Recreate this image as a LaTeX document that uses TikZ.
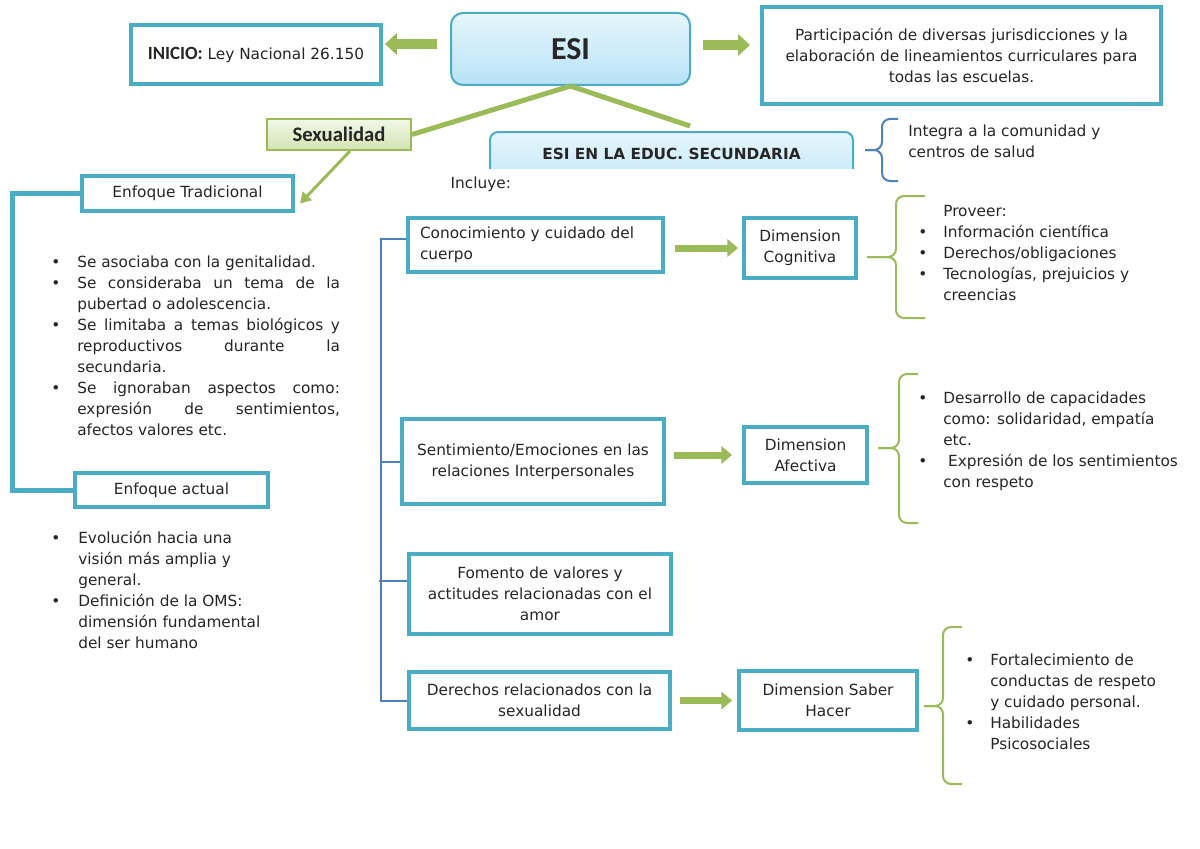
\documentclass[tikz,border=0pt]{standalone}
\usepackage{fontspec}
\setmainfont{DejaVu Sans}
\newfontfamily\calibri{Carlito}
\usetikzlibrary{arrows.meta,positioning}

\definecolor{turquesa}{HTML}{4BACC6}
\definecolor{verde}{HTML}{9BBB59}
\definecolor{azul}{HTML}{4F81BD}
\definecolor{celesteA}{HTML}{E6F6FD}
\definecolor{celesteB}{HTML}{B7E2F5}
\definecolor{verdeA}{HTML}{F2F7E8}
\definecolor{verdeB}{HTML}{D3E4B2}
\definecolor{texto}{HTML}{262626}

\setlength{\parindent}{0pt}
\newcommand{\letra}{\fontsize{11.5}{15.75}\selectfont}
\newenvironment{vinetas}[1][19.5pt]{%
  \begin{list}{\textbullet}{\setlength{\leftmargin}{#1}\setlength{\labelwidth}{#1}%
    \setlength{\labelsep}{0pt}\setlength{\itemsep}{0pt}\setlength{\parsep}{0pt}%
    \setlength{\topsep}{0pt}\setlength{\partopsep}{0pt}%
    \renewcommand{\makelabel}[1]{##1\hfil}}}
  {\end{list}}
\newcommand{\llave}[7]{%
  \draw[#1,rounded corners=6pt] (#2,#5) -| (#3,#6) -- (#4,#6);
  \draw[#1,rounded corners=6pt] (#2,#7) -| (#3,#6) -- (#4,#6);}

\begin{document}
\begin{tikzpicture}[x=0.75pt,y=-0.75pt,every node/.style={text=texto,font=\letra},
  caja/.style={draw=turquesa,line width=3pt,fill=white,inner sep=0pt,align=center},
  cajaesi/.style={draw=turquesa,line width=1.5pt,rounded corners=9pt,top color=celesteA,bottom color=celesteB},
  lista/.style={inner sep=0pt,anchor=base west},
  flechagrande/.style={verde,line width=7.5pt,-{Triangle[length=9pt,width=16pt]}},
  flechamedia/.style={verde,line width=5.25pt,-{Triangle[length=8pt,width=13pt]}},
  flechita/.style={verde,line width=2.25pt,-{Triangle[length=8pt,width=9pt]}},
  rama/.style={verde,line width=3.75pt},
  marco/.style={turquesa,line width=3.75pt},
  eje/.style={azul,line width=1.5pt}]
  \useasboundingbox[fill=white] (0,0) rectangle (1200,849);

  \node[cajaesi,minimum width=179.25pt,minimum height=54pt] (esi) at (570.5,49) {\calibri\bfseries\fontsize{24}{28}\selectfont ESI};
  \node[caja,minimum width=187.5pt,minimum height=44.25pt] (inicio) at (256,54.5) {{\calibri\bfseries\fontsize{14}{16}\selectfont INICIO:} Ley Nacional 26.150};
  \node[caja,minimum width=299.25pt,minimum height=72.75pt] (part) at (961.5,55.5) {Participación de diversas jurisdicciones y la\\elaboración de lineamientos curriculares para\\todas las escuelas.};
  \node[draw=verde,line width=1.5pt,top color=verdeA,bottom color=verdeB,inner sep=0pt,minimum width=108pt,minimum height=23.25pt] (sex) at (339,134.5) {\calibri\bfseries\fontsize{15.5}{18}\selectfont Sexualidad};
  \begin{scope}
    \clip (0,0) rectangle (1200,168);
    \node[cajaesi,rounded corners=6pt,minimum width=272.25pt,minimum height=52.5pt] (secu) at (671.5,167) {};
  \end{scope}
  \node (secutxt) at (secu.center |- 0,154) {\bfseries ESI EN LA EDUC. SECUNDARIA};
  \node[anchor=west] (incluye) at (446,184) {Incluye:};
  \node[lista] (integra) at (908,137) {\begin{minipage}[t]{200pt}\raggedright Integra a la comunidad y\\centros de salud\end{minipage}};

  \node[caja,minimum width=158.25pt,minimum height=26.25pt] (trad) at (187.5,193.5) {Enfoque Tradicional};
  \node[caja,minimum width=144.75pt,minimum height=25.5pt] (actual) at (171.5,490) {Enfoque actual};
  \node[lista] (ltrad) at (51,267) {\begin{minipage}[t]{216.5pt}\begin{vinetas}
    \item Se asociaba con la genitalidad.
    \item Se consideraba un tema de la\linebreak pubertad o adolescencia.
    \item Se limitaba a temas biológicos y\linebreak reproductivos durante la\linebreak secundaria.
    \item Se ignoraban aspectos como:\linebreak expresión de sentimientos,\linebreak afectos valores etc.
  \end{vinetas}\end{minipage}};
  \node[lista] (lactual) at (51,543) {\begin{minipage}[t]{200pt}\raggedright\begin{vinetas}[20.25pt]
    \item Evolución hacia una\\visión más amplia y\\general.
    \item Definición de la OMS:\\dimensión fundamental\\del ser humano
  \end{vinetas}\end{minipage}};

  \node[caja,align=left,text width=173.25pt,inner xsep=9pt,minimum height=40.5pt] (cono) at (535.5,245) {Conocimiento y cuidado del\\cuerpo};
  \node[caja,minimum width=196.5pt,minimum height=63.75pt] (sent) at (533,461.5) {Sentimiento/Emociones en las\\relaciones Interpersonales};
  \node[caja,minimum width=196.5pt,minimum height=60pt] (fom) at (540,594) {Fomento de valores y\\actitudes relacionadas con el\\amor};
  \node[caja,minimum width=195.75pt,minimum height=42.75pt] (der) at (539.5,700.5) {Derechos relacionados con la\\sexualidad};
  \node[caja,minimum width=84pt,minimum height=45pt] (cog) at (800,248) {Dimension\\Cognitiva};
  \node[caja,minimum width=92.25pt,minimum height=42pt] (afe) at (805.5,455) {Dimension\\Afectiva};
  \node[caja,minimum width=133.5pt,minimum height=44.25pt] (saber) at (828,700.5) {Dimension Saber\\Hacer};

  \node[lista] (lcog) at (918,216) {\begin{minipage}[t]{190pt}\raggedright\begin{vinetas}[18.75pt]
    \item[] Proveer:
    \item Información científica
    \item Derechos/obligaciones
    \item Tecnologías, prejuicios y\\creencias
  \end{vinetas}\end{minipage}};
  \node[lista] (lafe) at (918,403) {\begin{minipage}[t]{220pt}\raggedright\begin{vinetas}[18.75pt]
    \item Desarrollo de capacidades\\como: solidaridad, empatía\\etc.
    \item \ Expresión de los sentimientos\\con respeto
  \end{vinetas}\end{minipage}};
  \node[lista] (lsaber) at (965,665) {\begin{minipage}[t]{190pt}\raggedright\begin{vinetas}[18.75pt]
    \item Fortalecimiento de\\conductas de respeto\\y cuidado personal.
    \item Habilidades\\Psicosociales
  \end{vinetas}\end{minipage}};

  \coordinate (rama) at (690,126);
  \coordinate (eje) at (381,0);
  \draw[rama] (esi.south) -- (sex.east);
  \draw[rama] (esi.south) -- (rama);
  \draw[flechagrande,shorten <=9.75pt,shorten >=1.5pt] ([yshift=3.75pt]esi.west) -- ([yshift=3.75pt]esi.west -| inicio.east);
  \draw[flechagrande,shorten <=9pt,shorten >=7.5pt] ([yshift=3pt]esi.east) -- ([yshift=3pt]esi.east -| part.west);
  \draw[flechita] ([xshift=8.25pt]sex.south) -- ([shift={(3.75pt,-7.5pt)}]trad.east);
  \draw[marco] (trad.west) -- ++(-68,0) |- (actual.west);

  \draw[eje] ([yshift=4.5pt]cono.west) -| (eje |- der.west) -- (der.west);
  \draw[eje] (sent.west) -- (sent.west -| eje);
  \draw[eje] ([yshift=9.75pt]fom.west) -- ++(-28,0);
  \draw[flechamedia,shorten <=7.5pt,shorten >=3pt] (cog.west -| cono.east) -- (cog.west);
  \draw[flechamedia,shorten <=6pt,shorten >=7.5pt] (afe.west -| sent.east) -- (afe.west);
  \draw[flechamedia,shorten <=6pt,shorten >=3.75pt] (saber.west -| der.east) -- (saber.west);

  \llave{eje}{898}{882}{865}{119}{150}{181}
  \llave{verde,line width=1.5pt}{925}{896}{867}{196}{257}{318}
  \llave{verde,line width=1.5pt}{918}{899}{878}{374}{448}{523}
  \llave{verde,line width=1.5pt}{962}{943}{924}{627}{706}{784}
\end{tikzpicture}
\end{document}
